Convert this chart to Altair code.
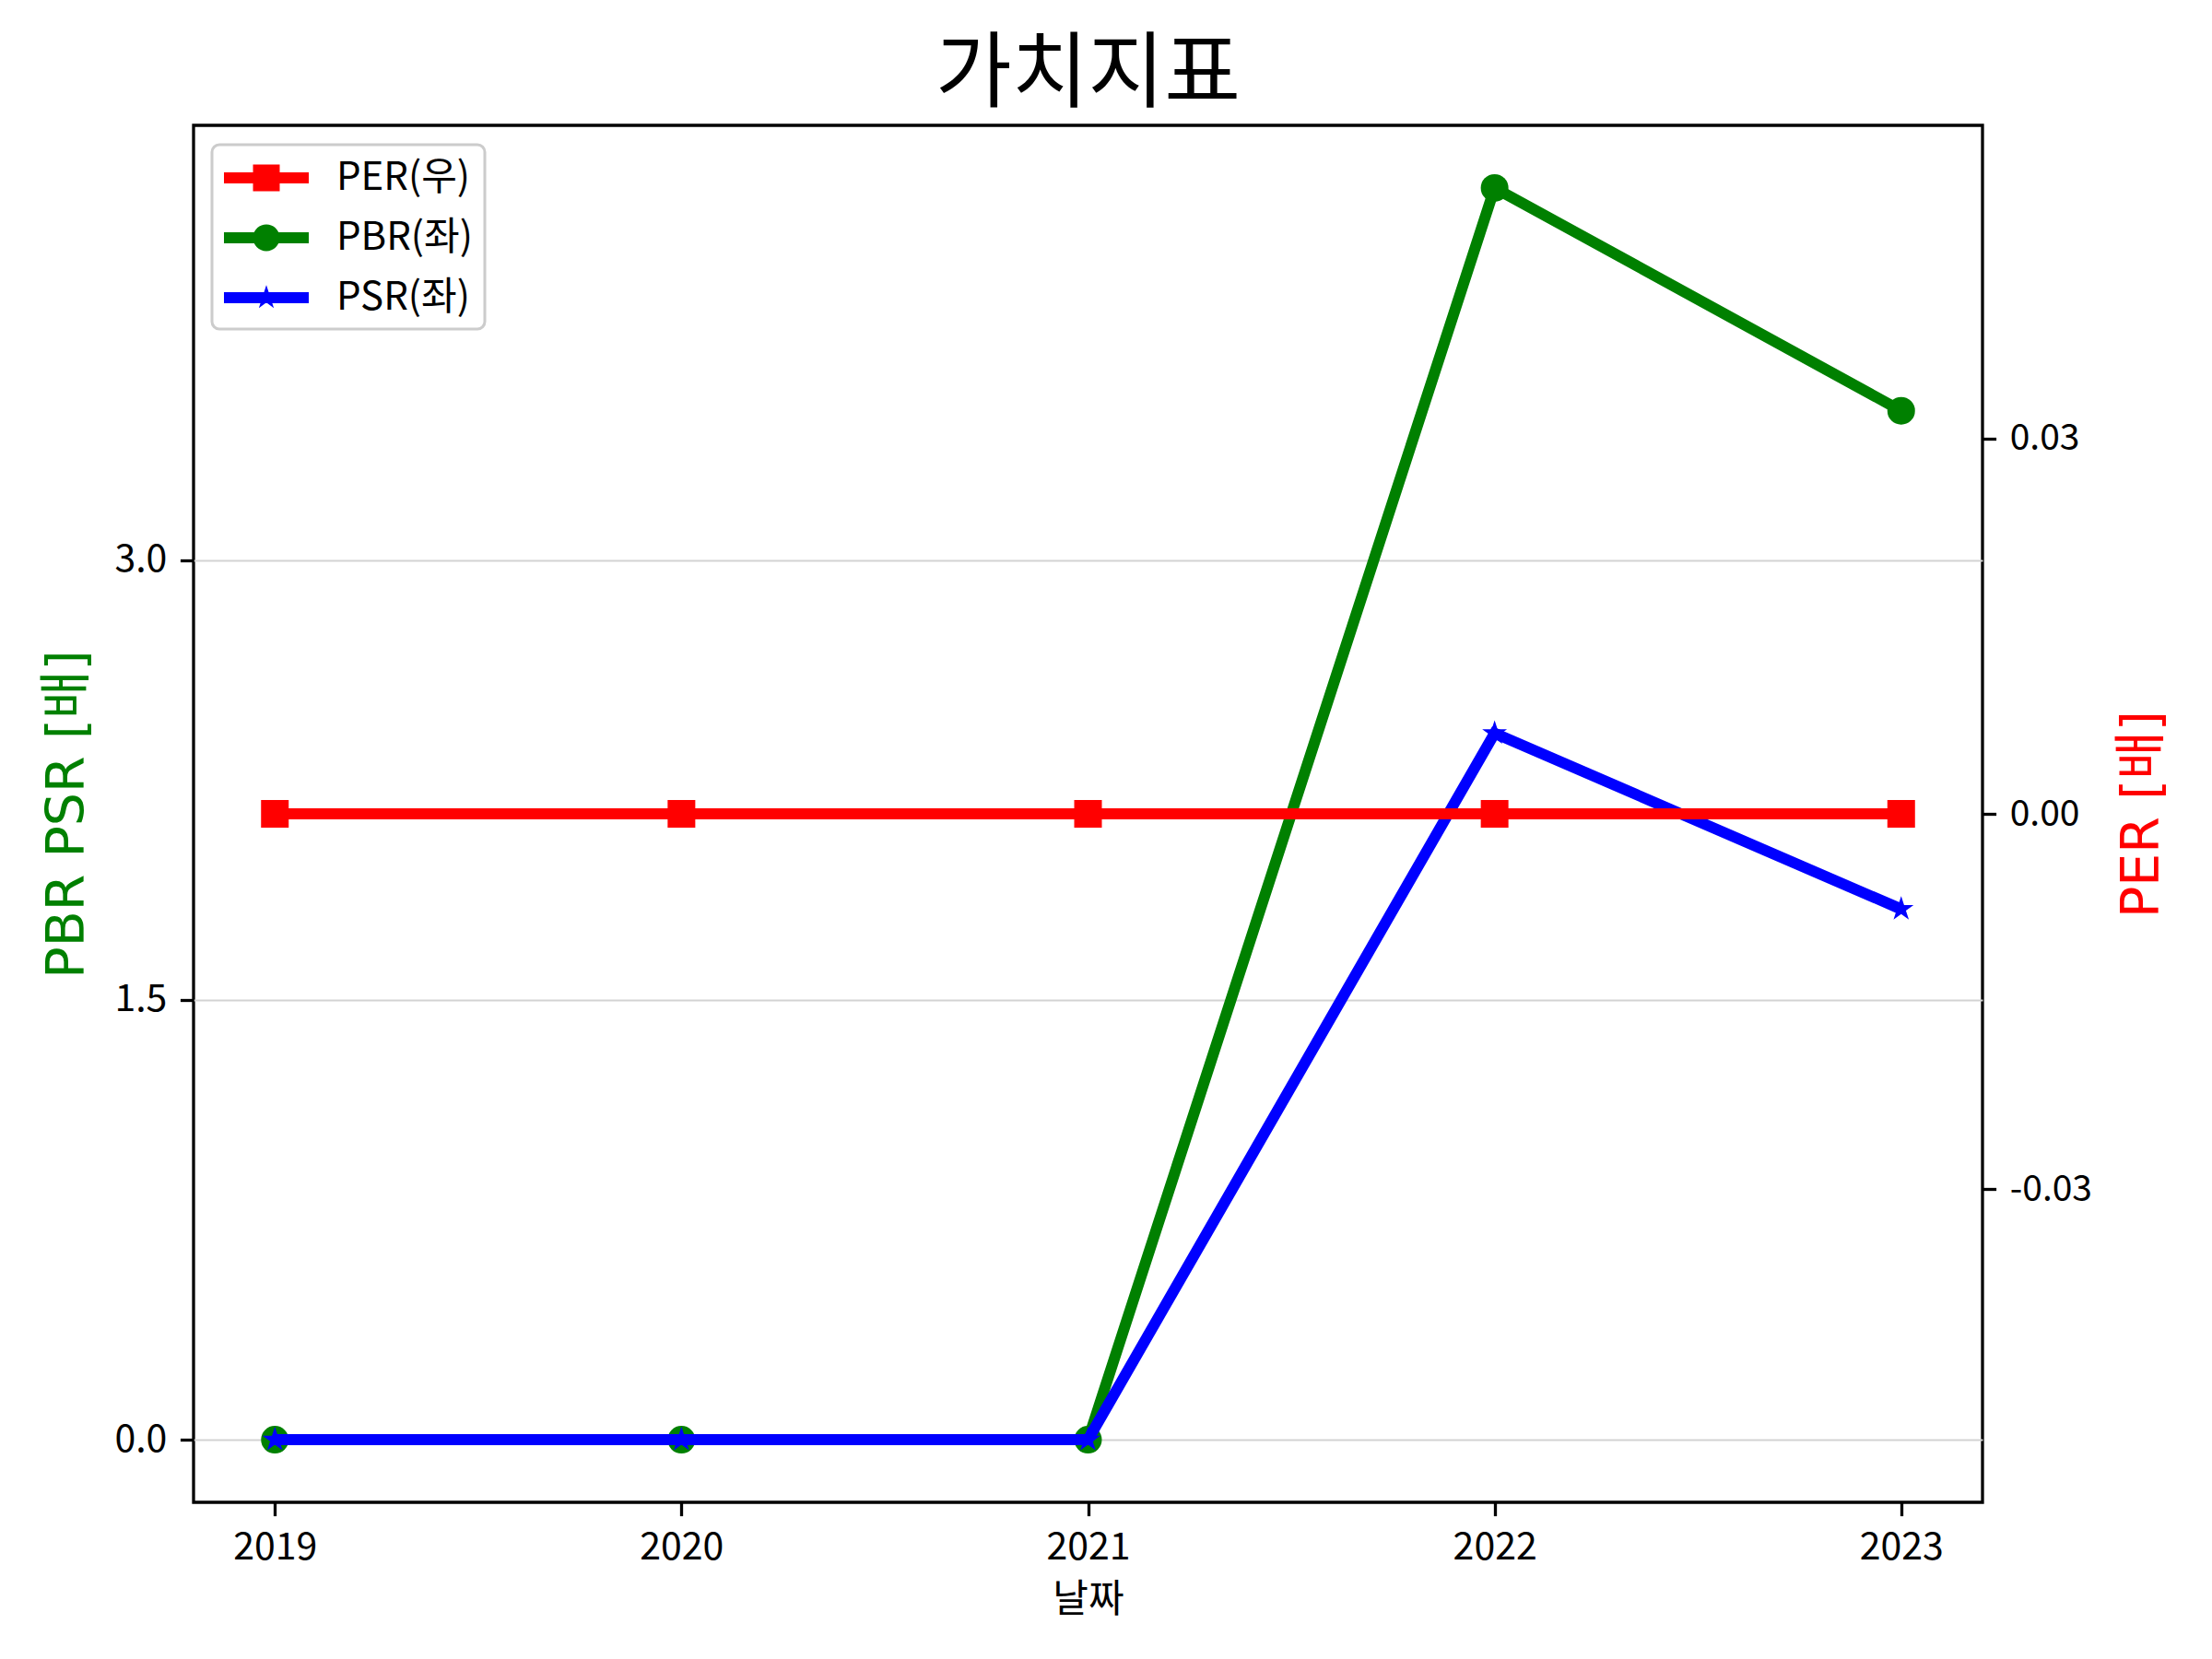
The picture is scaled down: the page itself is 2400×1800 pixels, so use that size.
import math
import altair as alt
import pandas as pd

# ---- data ----
years = [2019, 2020, 2021, 2022, 2023]
per = [0.0, 0.0, 0.0, 0.0, 0.0]
pbr = [0.0, 0.0, 0.0, 4.27, 3.51]
psr = [0.0, 0.0, 0.0, 2.41, 1.81]
series_names = ["PER(우)", "PBR(좌)", "PSR(좌)"]
series_colors = ["#ff0000", "#008000", "#0000ff"]
left_ticks = [0.0, 1.5, 3.0]
right_ticks = [-0.03, 0.0, 0.03]

KFONT = "Noto Sans CJK KR"
LFONT = "DejaVu Sans, Noto Sans CJK KR"
TICK_FS = 41

W, H = 1941, 1494


def frame(name, vals):
    return pd.DataFrame({"year": years, "value": vals, "series": name})


df_per = frame(series_names[0], per)
df_pbr = frame(series_names[1], pbr)
df_psr = frame(series_names[2], psr)


def star_path(R, r, n=5):
    pts = []
    for i in range(2 * n):
        a = -math.pi / 2 + i * math.pi / n
        rad = R if i % 2 == 0 else r
        pts.append((rad * math.cos(a), rad * math.sin(a)))
    return "M" + "L".join(f"{x:.3f},{y:.3f}" for x, y in pts) + "Z"


# legend symbol paths (line + marker), unit = half of sqrt(symbolSize)
bar = "M-2,-0.26H2V0.26H-2Z"
leg_square = bar + " M-0.63,-0.63H0.63V0.63H-0.63Z"
leg_circle = bar + " M0.63,0A0.63,0.63 0 1,1 -0.63,0A0.63,0.63 0 1,1 0.63,0Z"
leg_star = bar + " " + star_path(0.6, 0.23)
shape_expr = (
    f"datum.value === '{series_names[0]}' ? '{leg_square}' : "
    f"(datum.value === '{series_names[1]}' ? '{leg_circle}' : '{leg_star}')"
)

legend = alt.Legend(
    title=None,
    orient="none",
    legendX=20,
    legendY=21,
    padding=13,
    fillColor="white",
    strokeColor="#cccccc",
    cornerRadius=8,
    labelFont=KFONT,
    labelFontSize=42,
    labelColor="black",
    symbolType={"expr": shape_expr},
    symbolFillColor={"expr": "scale('color', datum.value)"},
    symbolSize=2116,
    symbolOffset=23,
    symbolStrokeWidth=0,
    symbolOpacity=1,
    labelOffset=53,
    rowPadding=21,
)

color = alt.Color(
    "series:N",
    scale=alt.Scale(domain=series_names, range=series_colors),
    legend=legend,
)

x_enc = alt.X(
    "year:Q",
    scale=alt.Scale(domain=[2018.8, 2023.2], nice=False, zero=False),
    axis=alt.Axis(
        values=years,
        format="d",
        title="날짜",
        grid=False,
        domain=False,
        tickSize=14.6,
        tickWidth=3.3,
        tickColor="black",
        labelPadding=14.6,
        labelFont=KFONT,
        labelFontSize=TICK_FS,
        labelColor="black",
        titleFont=KFONT,
        titleFontSize=42,
        titleFontWeight="normal",
        titleColor="black",
        titleX=W / 2,
        titleY=105,
        titleBaseline="middle",
        titleAlign="center",
    ),
)

y_left = alt.Y(
    "value:Q",
    scale=alt.Scale(domain=[-0.2135, 4.4835], nice=False, zero=False),
    axis=alt.Axis(
        values=left_ticks,
        format=".1f",
        title="PBR PSR [배]",
        grid=True,
        gridColor="#d3d3d3",
        gridWidth=2,
        domain=False,
        tickSize=14.6,
        tickWidth=3.3,
        tickColor="black",
        labelPadding=14.6,
        labelFont=KFONT,
        labelFontSize=TICK_FS,
        labelColor="black",
        titleFont=LFONT,
        titleFontSize=57,
        titleFontWeight="normal",
        titleColor="green",
        titleAngle=270,
        titleX=-137,
        titleY=H / 2,
        titleAlign="center",
        titleBaseline="middle",
    ),
)

y_right = alt.Y(
    "value:Q",
    scale=alt.Scale(domain=[-0.055, 0.055], nice=False, zero=False),
    axis=alt.Axis(
        orient="right",
        values=right_ticks,
        labelExpr="datum.value < 0 ? '-' + format(-datum.value, '.2f') : format(datum.value, '.2f')",
        title="PER [배]",
        grid=False,
        domain=False,
        tickSize=14.6,
        tickWidth=3.3,
        tickColor="black",
        labelPadding=14.6,
        labelFont=KFONT,
        labelFontSize=TICK_FS - 2,
        labelColor="black",
        titleFont=LFONT,
        titleFontSize=57,
        titleFontWeight="normal",
        titleColor="red",
        titleAngle=270,
        titleX=173,
        titleY=H / 2,
        titleAlign="center",
        titleBaseline="middle",
    ),
)

LW = 12
MSIZE = 900

pbr_line = alt.Chart(df_pbr).mark_line(strokeWidth=LW).encode(x=x_enc, y=y_left, color=color)
pbr_pts = alt.Chart(df_pbr).mark_point(filled=True, shape="circle", size=MSIZE, opacity=1).encode(
    x=x_enc, y=y_left, color=color
)
psr_line = alt.Chart(df_psr).mark_line(strokeWidth=LW).encode(x=x_enc, y=y_left, color=color)
psr_pts = alt.Chart(df_psr).mark_point(
    filled=True, shape=star_path(1.0, 0.382), size=800, opacity=1
).encode(x=x_enc, y=y_left, color=color)

per_line = alt.Chart(df_per).mark_line(strokeWidth=LW).encode(x=x_enc, y=y_right, color=color)
per_pts = alt.Chart(df_per).mark_point(filled=True, shape="square", size=MSIZE, opacity=1).encode(
    x=x_enc, y=y_right, color=color
)

left = alt.layer(pbr_line, pbr_pts, psr_line, psr_pts)
right = alt.layer(per_line, per_pts)

chart = (
    alt.layer(left, right)
    .resolve_scale(y="independent")
    .properties(
        width=W,
        height=H,
        title=alt.Title(
            "가치지표",
            font=KFONT,
            fontSize=90,
            fontWeight="normal",
            color="black",
            anchor="middle",
            offset=8,
        ),
        autosize=alt.AutoSizeParams(type="none"),
        padding={"left": 202, "top": 128, "right": 2384 - 202 - W, "bottom": 1784 - 128 - H},
        background="white",
    )
    .configure_view(stroke="black", strokeWidth=3.3)
    .configure_legend(strokeWidth=3)
)

chart.save("out.html", embed_options={"renderer": "svg", "actions": False})
